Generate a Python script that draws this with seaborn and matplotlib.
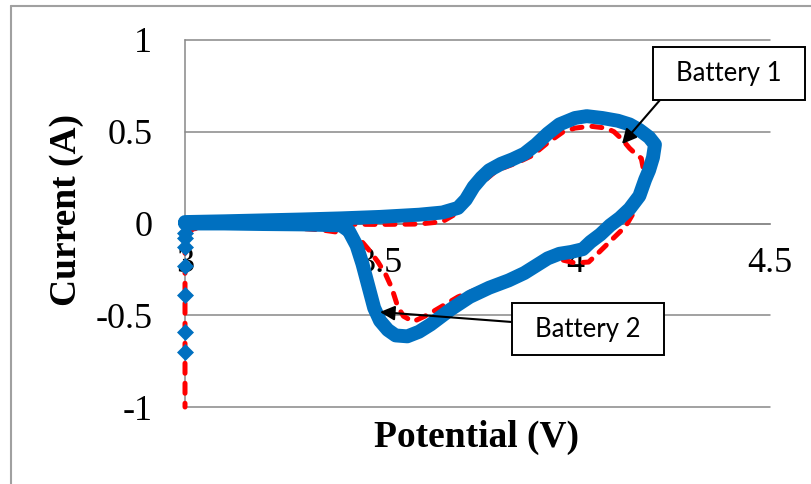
import matplotlib
matplotlib.use("Agg")
import matplotlib.pyplot as plt
from matplotlib.lines import Line2D
from matplotlib.patches import Rectangle
import numpy as np
import pandas as pd
import seaborn as sns

# ---- data: cyclic voltammograms (potential in V, current in A) ----
battery2_v = [3.00, 3.10, 3.20, 3.30, 3.40, 3.50, 3.60, 3.66, 3.70, 3.72, 3.74, 3.76,
              3.78, 3.81, 3.84, 3.87, 3.90, 3.93, 3.96, 4.00, 4.03, 4.07, 4.11, 4.14,
              4.165, 4.19, 4.205,
              4.20, 4.19, 4.18, 4.165, 4.14, 4.115, 4.09, 4.065, 4.04, 4.02, 3.99,
              3.96, 3.93, 3.90, 3.87, 3.83, 3.78, 3.73, 3.68, 3.63, 3.60, 3.57,
              3.54, 3.52, 3.50, 3.485, 3.47, 3.455, 3.44, 3.42, 3.40, 3.30, 3.20,
              3.10, 3.00]
battery2_i = [0.008, 0.012, 0.017, 0.022, 0.028, 0.036, 0.048, 0.060, 0.085, 0.13, 0.20, 0.25,
              0.29, 0.325, 0.35, 0.38, 0.43, 0.49, 0.54, 0.575, 0.585, 0.575, 0.56, 0.54,
              0.51, 0.47, 0.43,
              0.36, 0.29, 0.24, 0.15, 0.08, 0.03, -0.01, -0.06, -0.10, -0.14, -0.155,
              -0.165, -0.19, -0.23, -0.27, -0.31, -0.35, -0.40, -0.47, -0.55, -0.59, -0.615,
              -0.61, -0.58, -0.53, -0.46, -0.34, -0.22, -0.12, -0.04, -0.01, -0.005, -0.003,
              0.0, 0.0]

battery2_tail_v = [3.00, 3.00, 3.00, 3.00, 3.00, 3.00, 3.00]
battery2_tail_i = [-0.05, -0.08, -0.13, -0.23, -0.39, -0.59, -0.70]

battery1_v = [3.00, 3.20, 3.40, 3.50, 3.60, 3.66, 3.70, 3.73, 3.76, 3.80, 3.85, 3.89,
              3.93, 3.97, 4.00, 4.04, 4.08, 4.10, 4.12, 4.14, 4.155, 4.17,
              4.175, 4.17, 4.155, 4.13, 4.095, 4.06, 4.035, 4.00, 3.96, 3.92, 3.88,
              3.83, 3.77, 3.70, 3.66, 3.62, 3.585, 3.56, 3.545, 3.53, 3.515, 3.495,
              3.47, 3.45, 3.43, 3.40, 3.35, 3.25, 3.15, 3.05, 3.02, 3.005, 3.00, 3.00]
battery1_i = [-0.005, -0.004, -0.004, -0.005, -0.003, 0.01, 0.06, 0.14, 0.22, 0.29, 0.33, 0.37,
              0.44, 0.50, 0.52, 0.53, 0.52, 0.50, 0.46, 0.41, 0.38, 0.355,
              0.30, 0.20, 0.076, -0.015, -0.087, -0.16, -0.21, -0.215, -0.195, -0.21, -0.25,
              -0.29, -0.34, -0.40, -0.45, -0.50, -0.535, -0.505, -0.45, -0.35, -0.28, -0.21,
              -0.14, -0.09, -0.065, -0.05, -0.035, -0.02, -0.016, -0.02, -0.03, -0.06, -0.10, -1.0]

x_ticks = [3, 3.5, 4, 4.5]
x_tick_labels = ["3", "3.5", "4", "4.5"]
y_ticks = [-1, -0.5, 0, 0.5, 1]
y_tick_labels = ["-1", "-0.5", "0", "0.5", "1"]

BLUE = "#0070C0"
RED = "#FF0000"
GRID = "#888888"
SERIF = ["Liberation Serif", "DejaVu Serif"]

sns.set_style("white")
plt.rcParams["font.family"] = SERIF
plt.rcParams["text.color"] = "black"
plt.rcParams["axes.labelcolor"] = "black"
plt.rcParams["xtick.color"] = "black"
plt.rcParams["ytick.color"] = "black"

W, H = 811, 484
fig = plt.figure(figsize=(W / 100, H / 100), dpi=100)
fig.patch.set_facecolor("white")

# axes box in pixel terms
x0, x1, y0, y1 = 185, 770, 40, 407
ax = fig.add_axes([x0 / W, 1 - y1 / H, (x1 - x0) / W, (y1 - y0) / H])
ax.set_facecolor("white")

df1 = pd.DataFrame({"Potential": battery1_v, "Current": battery1_i})
df2 = pd.DataFrame({"Potential": battery2_v, "Current": battery2_i})
df2t = pd.DataFrame({"Potential": battery2_tail_v, "Current": battery2_tail_i})

sns.lineplot(data=df1, x="Potential", y="Current", sort=False, estimator=None, ax=ax,
             color=RED, linewidth=3.6, linestyle=(0, (2.0, 2.0)),
             dash_capstyle="round", solid_capstyle="round", zorder=3, clip_on=False)
sns.lineplot(data=df2, x="Potential", y="Current", sort=False, estimator=None, ax=ax,
             color=BLUE, linewidth=10, solid_joinstyle="round", solid_capstyle="round",
             zorder=4, clip_on=False)
sns.scatterplot(data=df2t, x="Potential", y="Current", ax=ax, marker="D", s=75,
                color=BLUE, edgecolor=BLUE, linewidth=0, zorder=5, clip_on=False)

ax.set_xlim(3, 4.5)
ax.set_ylim(-1, 1)
ax.set_xlabel("")
ax.set_ylabel("")

# axes: left spine, x axis crossing at zero, horizontal gridlines
for s in ["top", "right"]:
    ax.spines[s].set_visible(False)
ax.spines["left"].set_color(GRID)
ax.spines["left"].set_linewidth(1.1)
ax.spines["bottom"].set_position(("data", 0))
ax.spines["bottom"].set_color(GRID)
ax.spines["bottom"].set_linewidth(1.1)
ax.spines["bottom"].set_zorder(1)

ax.set_xticks(x_ticks)
ax.set_xticklabels(x_tick_labels)
ax.set_yticks(y_ticks)
ax.set_yticklabels(y_tick_labels)
ax.tick_params(axis="x", direction="out", length=8, width=1.1, color=GRID,
               labelcolor="black", labelsize=26, pad=9)
ax.tick_params(axis="y", direction="out", length=7.5, width=1.1, color=GRID,
               labelcolor="black", labelsize=26, pad=16)
ax.yaxis.grid(True, color=GRID, linewidth=1.1)
ax.xaxis.grid(False)
for gl in ax.yaxis.get_gridlines():
    gl.set_clip_on(False)
ax.set_axisbelow(True)

# axis titles
fig.text(476 / W, 1 - 437 / H, "Potential (V)", ha="center", va="center",
         fontsize=27, fontweight="bold", family=SERIF, color="black")
fig.text(66 / W, 1 - 210 / H, "Current (A)", ha="center", va="center", rotation=90,
         fontsize=27, fontweight="bold", family=SERIF, color="black")

# callouts
LABEL_FONT = ["Lato", "DejaVu Sans"]


def callout(text, box_px, tip_px, tail_px):
    bx0, by0, bx1, by1 = box_px
    rect = Rectangle((bx0 / W, 1 - by1 / H), (bx1 - bx0) / W, (by1 - by0) / H,
                     transform=fig.transFigure, facecolor="white", edgecolor="black",
                     linewidth=1.4, zorder=10)
    fig.add_artist(rect)
    fig.text((bx0 + bx1) / 2 / W, 1 - (by0 + by1) / 2 / H, text, ha="center",
             va="center", fontsize=18.5, family=LABEL_FONT, color="black", zorder=11)
    ax.annotate("", xy=(tip_px[0] / W, 1 - tip_px[1] / H), xycoords="figure fraction",
                xytext=(tail_px[0] / W, 1 - tail_px[1] / H), textcoords="figure fraction",
                arrowprops=dict(arrowstyle="-|>", color="black", lw=1.5,
                                mutation_scale=22, shrinkA=0, shrinkB=0),
                zorder=12, annotation_clip=False)


callout("Battery 1", (653, 47, 805, 100), (622, 144), (660, 100))
callout("Battery 2", (512, 303, 664, 355), (380, 312), (512, 322))

# outer frame (left and top edges)
fig.add_artist(Line2D([11 / W, 11 / W], [0, 1 - 6 / H], transform=fig.transFigure,
                      color="#A0A0A0", linewidth=1.5))
fig.add_artist(Line2D([11 / W, 1], [1 - 6 / H, 1 - 6 / H], transform=fig.transFigure,
                      color="#A0A0A0", linewidth=1.5))

fig.savefig("out.png", dpi=100, facecolor="white")
